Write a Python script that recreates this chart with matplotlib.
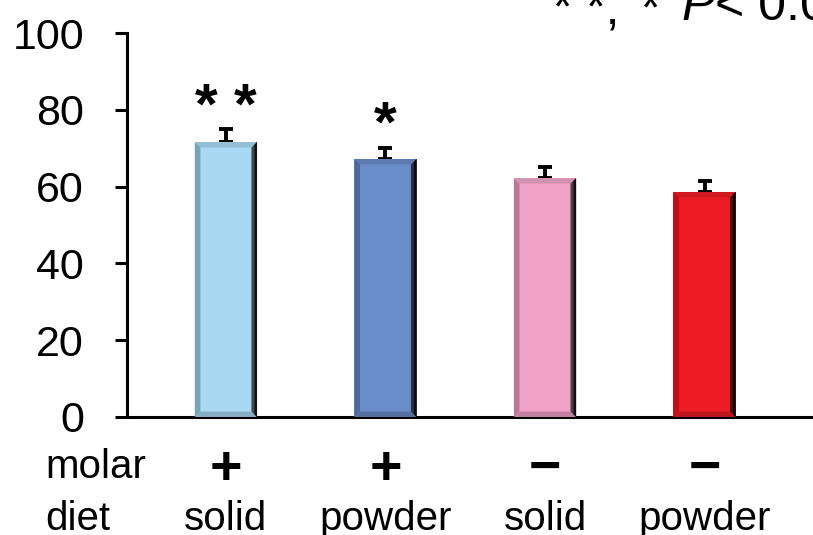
import numpy as np
import matplotlib
matplotlib.use("Agg")
import matplotlib.pyplot as plt
from matplotlib.patches import Polygon
from matplotlib.colors import to_rgb

plt.rcParams['font.family'] = ['Liberation Sans', 'DejaVu Sans']

# values
molar = ['+', '+', '\u2212', '\u2212']
diet = ['solid', 'powder', 'solid', 'powder']
means = [71.6, 67.2, 62.2, 58.6]
sems = [3.3, 2.9, 2.9, 2.9]
stars = ['* *', '*', '', '']
colors = ['#A8D8F2', '#6A8CC8', '#F0A2C8', '#EC1C24']


def shade(c, f):
    r, g, b = to_rgb(c)
    return (r * f, g * f, b * f)


def bevel(ax, bar, color):
    # fake the 3D bevelled edge of the original bars
    x, w, h = bar.get_x(), bar.get_width(), bar.get_height()
    bx, by = w * 0.09, 1.4
    ax.add_patch(Polygon([(x, 0), (x + bx, by), (x + bx, h - by), (x, h)],
                         closed=True, fc=shade(color, 0.75), ec='none', zorder=3))
    ax.add_patch(Polygon([(x, h), (x + w, h), (x + w - bx, h - by), (x + bx, h - by)],
                         closed=True, fc=shade(color, 0.88), ec='none', zorder=3))
    ax.add_patch(Polygon([(x, 0), (x + w, 0), (x + w - bx, by), (x + bx, by)],
                         closed=True, fc=shade(color, 0.8), ec='none', zorder=3))
    ax.add_patch(Polygon([(x + w, 0), (x + w - bx, by), (x + w - bx, h - by), (x + w, h)],
                         closed=True, fc=shade(color, 0.35), ec='none', zorder=3))
    ax.add_patch(Polygon([(x + w, 0), (x + w - bx * 0.45, by * 0.45),
                          (x + w - bx * 0.45, h - by * 0.45), (x + w, h)],
                         closed=True, fc=shade(color, 0.08), ec='none', zorder=3))


fig = plt.figure(figsize=(8.13, 5.35), dpi=100)
ax = fig.add_axes([127 / 813, 1 - 417 / 535, 1 - 127 / 813, (417 - 33) / 535])

xs = np.arange(len(means))
bars = ax.bar(xs, means, width=0.39, color=colors, zorder=2)
for b, c in zip(bars, colors):
    bevel(ax, b, c)

ax.errorbar(xs, means, yerr=[np.zeros(len(sems)), sems], fmt='none', ecolor='black',
            elinewidth=2.8, capsize=5, capthick=2.8, zorder=1)

for x, m, e, s in zip(xs, means, sems, stars):
    if s:
        ax.text(x, m + e + 1.5, s, ha='center', va='baseline', fontsize=42,
                fontweight='bold')

ax.set_xlim(-0.62, 3.68)
ax.set_ylim(0, 100)
ax.set_yticks([0, 20, 40, 60, 80, 100])
ax.tick_params(axis='y', length=9, width=2.2, labelsize=31, pad=22)
ax.tick_params(axis='x', length=0, labelbottom=False)
for side in ['top', 'right']:
    ax.spines[side].set_visible(False)
for side in ['left', 'bottom']:
    ax.spines[side].set_linewidth(2.2)

# row labels under the axis
trans = ax.get_xaxis_transform()
ax.text(-0.62 - 82 / 159.5, -0.16, 'molar', transform=trans, ha='left', va='baseline',
        fontsize=29, clip_on=False)
ax.text(-0.62 - 82 / 159.5, -0.295, 'diet', transform=trans, ha='left', va='baseline',
        fontsize=29, clip_on=False)
for x, m, d in zip(xs, molar, diet):
    ax.text(x, -0.175, m, transform=trans, ha='center', va='baseline', fontsize=40,
            fontweight='bold', clip_on=False)
    ax.text(x, -0.295, d, transform=trans, ha='center', va='baseline', fontsize=29,
            clip_on=False)

# significance note, cut off by the top/right edge as in the original
fig.text(553 / 813, 1 - 24 / 535, '* *,', ha='left', va='baseline', fontsize=36)
fig.text(640 / 813, 1 - 24 / 535, '*', ha='left', va='baseline', fontsize=36)
fig.text(681 / 813, 1 - 20 / 535, 'P', ha='left', va='baseline', fontsize=36,
         fontstyle='italic')
fig.text(715 / 813, 1 - 20 / 535, '< 0.05', ha='left', va='baseline', fontsize=36)

fig.savefig('out.png', dpi=100)
